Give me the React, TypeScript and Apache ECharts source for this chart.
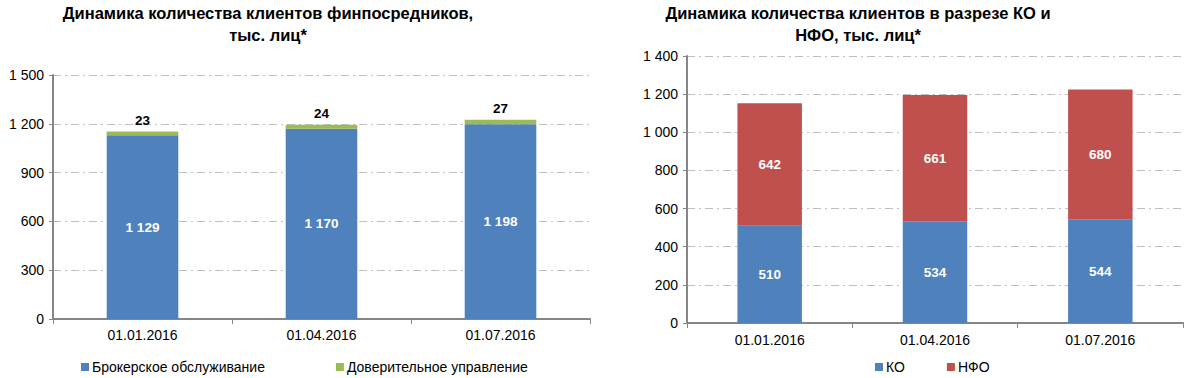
import React, { useEffect, useRef } from "react";
import * as echarts from "echarts";

const categories = ["01.01.2016", "01.04.2016", "01.07.2016"];
const brokerValues = [1129, 1170, 1198];
const trustValues = [23, 24, 27];
const koValues = [510, 534, 544];
const nfoValues = [642, 661, 680];

const leftTitle = "Динамика количества клиентов финпосредников,\nтыс. лиц*";
const rightTitle = "Динамика количества клиентов в разрезе КО и\nНФО, тыс. лиц*";

const BLUE = "#4F81BD";
const GREEN = "#9BBB59";
const RED = "#C0504D";
const FONT = "'Liberation Sans', Arial, sans-serif";

const fmt = (v: number) => String(v).replace(/\B(?=(\d{3})+(?!\d))/g, " ");

export default function App() {
  const ref = useRef<HTMLDivElement>(null);
  useEffect(() => {
    document.body.style.margin = "0";
    const chart = echarts.init(ref.current!, null, { renderer: "svg" });
    const axisLine = { show: true, lineStyle: { color: "#868686", width: 2 } };
    const splitLine = {
      show: true,
      lineStyle: { color: "#BFBFBF", width: 1, type: [8, 4, 2, 4] as any },
    };
    const yLabel = { color: "#000", fontSize: 14, fontFamily: FONT, formatter: fmt, margin: 9 };
    const xLabel = { color: "#000", fontSize: 14, fontFamily: FONT, margin: 9 };
    const inLabel = {
      show: true,
      position: "inside",
      color: "#fff",
      fontWeight: "bold",
      fontSize: 13.5,
      fontFamily: FONT,
      formatter: (p: any) => fmt(p.value),
    };
    const legendText = { fontSize: 14, color: "#000", fontFamily: FONT, padding: [0, 0, 0, -2] };
    chart.setOption({
      animation: false,
      textStyle: { fontFamily: FONT },
      graphic: [
        {
          type: "text",
          x: 268,
          y: 2,
          style: {
            text: leftTitle,
            textAlign: "center",
            font: `bold 16.5px ${FONT}`,
            lineHeight: 22,
            fill: "#000",
          },
        },
        {
          type: "text",
          x: 858,
          y: 2,
          style: {
            text: rightTitle,
            textAlign: "center",
            font: `bold 16.5px ${FONT}`,
            lineHeight: 22,
            fill: "#000",
          },
        },
      ],
      legend: [
        {
          left: 76,
          top: 355,
          itemWidth: 8,
          itemHeight: 8,
          itemGap: 71,
          icon: "rect",
          textStyle: legendText,
          data: ["Брокерское обслуживание", "Доверительное управление"],
        },
        {
          left: 870,
          top: 355,
          itemWidth: 8,
          itemHeight: 8,
          itemGap: 42,
          icon: "rect",
          textStyle: legendText,
          data: ["КО", "НФО"],
        },
      ],
      grid: [
        { left: 53, top: 75, width: 537, height: 244 },
        { left: 687, top: 56, width: 496, height: 267 },
      ],
      xAxis: [
        {
          type: "category",
          gridIndex: 0,
          data: categories,
          axisLine,
          axisTick: { show: true, length: 5, lineStyle: { color: "#868686" } },
          axisLabel: xLabel,
        },
        {
          type: "category",
          gridIndex: 1,
          data: categories,
          axisLine,
          axisTick: { show: true, length: 5, lineStyle: { color: "#868686" } },
          axisLabel: { ...xLabel, margin: 10 },
        },
      ],
      yAxis: [
        {
          type: "value",
          gridIndex: 0,
          min: 0,
          max: 1500,
          interval: 300,
          axisLine,
          axisTick: { show: true, length: 4, lineStyle: { color: "#868686" } },
          axisLabel: yLabel,
          splitLine,
        },
        {
          type: "value",
          gridIndex: 1,
          min: 0,
          max: 1400,
          interval: 200,
          axisLine,
          axisTick: { show: true, length: 4, lineStyle: { color: "#868686" } },
          axisLabel: yLabel,
          splitLine,
        },
      ],
      series: [
        {
          name: "Брокерское обслуживание",
          type: "bar",
          stack: "a",
          xAxisIndex: 0,
          yAxisIndex: 0,
          barWidth: "40%",
          data: brokerValues,
          itemStyle: { color: BLUE },
          label: inLabel,
        },
        {
          name: "Доверительное управление",
          type: "bar",
          stack: "a",
          xAxisIndex: 0,
          yAxisIndex: 0,
          barWidth: "40%",
          data: trustValues,
          itemStyle: { color: GREEN },
          label: {
            show: true,
            position: "top",
            color: "#000",
            fontWeight: "bold",
            fontSize: 13.5,
            fontFamily: FONT,
            distance: 4,
          },
        },
        {
          name: "КО",
          type: "bar",
          stack: "b",
          xAxisIndex: 1,
          yAxisIndex: 1,
          barWidth: "39%",
          data: koValues,
          itemStyle: { color: BLUE },
          label: inLabel,
        },
        {
          name: "НФО",
          type: "bar",
          stack: "b",
          xAxisIndex: 1,
          yAxisIndex: 1,
          barWidth: "39%",
          data: nfoValues,
          itemStyle: { color: RED },
          label: inLabel,
        },
      ],
    });
    return () => chart.dispose();
  }, []);
  return (
    <div
      ref={ref}
      style={{ position: "absolute", left: 0, top: 0, width: 1201, height: 378, background: "#fff" }}
    />
  );
}
